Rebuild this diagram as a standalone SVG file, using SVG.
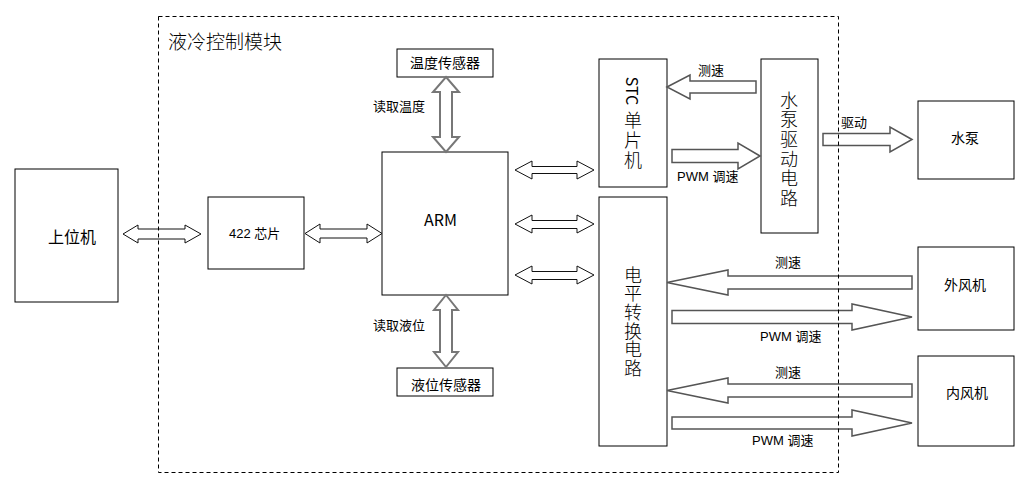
<svg xmlns="http://www.w3.org/2000/svg" width="1029" height="482" viewBox="0 0 1029 482">
<style>
.box{fill:#fff;stroke:#000;stroke-width:1}
.t{font-family:"Noto Sans CJK SC","Liberation Sans",sans-serif;fill:#000}
.l{font-size:13px}
.v{font-size:18px;font-weight:300;writing-mode:vertical-rl}
.da{fill:#fff;stroke:#111;stroke-width:1}
.ba{fill:#fff;stroke:#555;stroke-width:1.5}
.va{fill:#fff;stroke:#777;stroke-width:2}
.border{fill:none;stroke:#000;stroke-width:1;stroke-dasharray:4 3}
</style>
<rect width="1029" height="482" fill="#fff"/>

<g id="host"><rect class="box" x="15" y="169" width="103" height="133"/><text class="t" x="48" y="243" font-size="16">上位机</text></g>
<g id="chip422"><rect class="box" x="208" y="197" width="96" height="72"/><text class="t l" x="229" y="238"><tspan font-family="Liberation Sans">422 </tspan>芯片</text></g>
<g id="arm"><rect class="box" x="382" y="152" width="126" height="143"/><text class="t" x="424" y="226" font-size="16" font-family="Liberation Sans">ARM</text></g>
<g id="temp-sensor"><rect class="box" x="397" y="49" width="96" height="28"/><text class="t" x="410" y="68" font-size="14">温度传感器</text></g>
<g id="level-sensor"><rect class="box" x="397" y="368" width="96" height="28"/><text class="t" x="411" y="390" font-size="14">液位传感器</text></g>
<g id="stc"><rect class="box" x="599" y="59" width="68" height="128"/>
<text class="t" x="633" y="91" font-size="16" font-family="Liberation Sans" text-anchor="middle" dominant-baseline="central" transform="rotate(90 633 91)">STC</text>
<text class="t v" x="633" y="111" letter-spacing="2">单片机</text></g>
<g id="pump-driver"><rect class="box" x="761" y="59" width="57" height="174"/>
<text class="t v" x="789" y="91" letter-spacing="1.6">水泵驱动电路</text></g>
<g id="level-shift"><rect class="box" x="599" y="197" width="68" height="249"/>
<text class="t v" x="633" y="266" letter-spacing="0.6">电平转换电路</text></g>
<g id="pump"><rect class="box" x="918" y="101" width="96" height="78"/><text class="t" x="951" y="143" font-size="14">水泵</text></g>
<g id="outer-fan"><rect class="box" x="918" y="247" width="96" height="83"/><text class="t" x="944" y="290" font-size="14">外风机</text></g>
<g id="inner-fan"><rect class="box" x="918" y="356" width="96" height="90"/><text class="t" x="946" y="398" font-size="14">内风机</text></g>

<g id="connectors">
<polygon class="da" points="123,234 138,225 138,229 185,229 185,225 201,234 185,243 185,239 138,239 138,243"/>
<polygon class="da" points="305,233.5 320,224 320,229 367,229 367,224 382,233.5 367,243 367,238 320,238 320,243"/>
<polygon class="da" points="515,170 532,161 532,166.5 577,166.5 577,161 594,170 577,179 577,173.5 532,173.5 532,179"/>
<polygon class="da" points="515,224 532,215 532,220.5 577,220.5 577,215 594,224 577,233 577,228.5 532,228.5 532,233"/>
<polygon class="da" points="515,275 532,266 532,271.5 577,271.5 577,266 594,275 577,284 577,279.5 532,279.5 532,284"/>
<polygon class="va" points="446,77 459,92 452,92 452,137 459,137 446,152 433,137 440,137 440,92 433,92"/>
<polygon class="va" points="446,295 458,310 452,310 452,352 458,352 446,367 434,352 440,352 440,310 434,310"/>
<polygon class="ba" points="667,87 690,75 690,81 756,81 756,93 690,93 690,99"/>
<polygon class="ba" points="760,156 738,143 738,149.5 672,149.5 672,162.5 738,162.5 738,169"/>
<polygon class="ba" points="912,139.5 890,127 890,133.5 823,133.5 823,145.5 890,145.5 890,152"/>
<polygon class="ba" points="667,282.5 728,270 728,276 912,276 912,289 728,289 728,295"/>
<polygon class="ba" points="912,317 852,304 852,310.5 672,310.5 672,323.5 852,323.5 852,330"/>
<polygon class="ba" points="667,390.5 728,378 728,384 912,384 912,397 728,397 728,403"/>
<polygon class="ba" points="912,423 852,410 852,417 672,417 672,429 852,429 852,436"/>
<text class="t l" x="373" y="111">读取温度</text>
<text class="t l" x="373" y="330">读取液位</text>
<text class="t l" x="698" y="75">测速</text>
<text class="t l" x="677" y="181"><tspan font-family="Liberation Sans">PWM </tspan>调速</text>
<text class="t l" x="841" y="127">驱动</text>
<text class="t l" x="775" y="267">测速</text>
<text class="t l" x="760" y="341"><tspan font-family="Liberation Sans">PWM </tspan>调速</text>
<text class="t l" x="775" y="377">测速</text>
<text class="t l" x="752" y="445"><tspan font-family="Liberation Sans">PWM </tspan>调速</text>
</g>

<g id="liquid-cooling-module">
<rect class="border" x="158.5" y="16.5" width="680" height="456"/>
<text class="t" x="168" y="49" font-size="19" font-weight="300">液冷控制模块</text>
</g>
</svg>
